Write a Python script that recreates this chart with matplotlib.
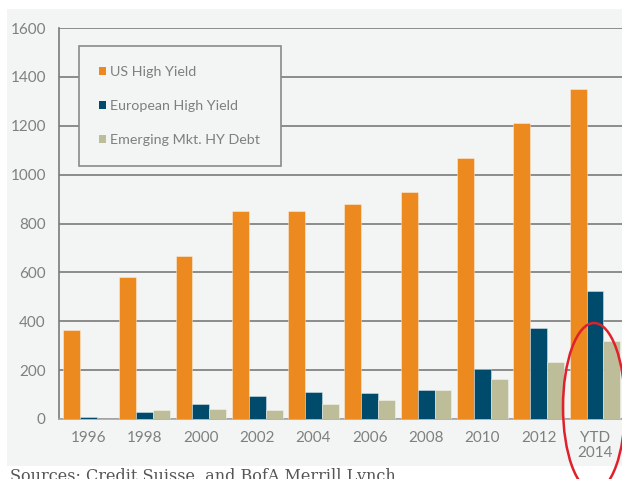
import matplotlib
matplotlib.use("Agg")
import matplotlib.pyplot as plt
from matplotlib.patches import Rectangle, Ellipse, Patch
import numpy as np

# issuance volumes (US$ bn)
years = ["1996", "1998", "2000", "2002", "2004", "2006", "2008", "2010", "2012", "YTD\n2014"]
us_hy = [365, 580, 665, 850, 850, 880, 930, 1070, 1210, 1350]
euro_hy = [7, 30, 60, 94, 112, 105, 117, 203, 371, 525]
em_hy = [1, 37, 41, 37, 61, 78, 119, 164, 233, 319]

series = ["US High Yield", "European High Yield", "Emerging Mkt. HY Debt"]
colors = ["#ec891f", "#004a6b", "#bdbd99"]

plt.rcParams['font.family'] = ['Lato', 'DejaVu Sans']
grey_txt = "#7f7f7f"
panel = "#f3f5f5"

W, H = 622, 479
fig = plt.figure(figsize=(W / 100, H / 100), dpi=100)
fig.patch.set_facecolor("white")

# light panel behind the chart
fig.add_artist(Rectangle((7 / W, 1 - 466 / H), 1 - 7 / W, (466 - 9) / H,
                         transform=fig.transFigure, facecolor=panel,
                         edgecolor="none", zorder=0))

ax = fig.add_axes([59 / W, 1 - 419 / H, 1 - 59 / W, (419 - 28) / H])
ax.set_facecolor(panel)

x = np.arange(len(years))
w = 0.3
for k, (vals, c) in enumerate(zip([us_hy, euro_hy, em_hy], colors)):
    ax.bar(x + (k - 1) * w, vals, width=w, color=c, edgecolor=(1, 1, 1, 0.45),
           linewidth=0.6, zorder=3)

ax.set_ylim(0, 1600)
ax.set_xlim(-0.52, 9.48)
ax.set_yticks(range(0, 1601, 200))
ax.set_xticks(x)
ax.set_xticklabels(years)
ax.yaxis.grid(True, color="#7a7a7a", linewidth=1.2, zorder=1)
ax.set_axisbelow(True)
ax.tick_params(length=0, labelsize=11, colors=grey_txt)
ax.tick_params(axis="y", pad=9.5)
ax.tick_params(axis="x", pad=9)
for t in ax.get_xticklabels() + ax.get_yticklabels():
    t.set_linespacing(1.05)

for s in ["top", "right"]:
    ax.spines[s].set_visible(False)
ax.spines["left"].set_color("#7a7a7a")
ax.spines["left"].set_linewidth(1.2)
ax.spines["bottom"].set_color("#a8a8a8")
ax.spines["bottom"].set_linewidth(1.2)

handles = [Patch(facecolor=c, edgecolor="none") for c in colors]
leg = ax.legend(handles, series, loc="upper left",
                bbox_to_anchor=(79 / W, 1 - 46 / H), bbox_transform=fig.transFigure,
                borderaxespad=0, fontsize=10.3, labelcolor=grey_txt,
                handlelength=0.5, handleheight=0.5, handletextpad=0.3,
                labelspacing=1.55, borderpad=1.4, fancybox=False, framealpha=1)
leg.get_frame().set_facecolor(panel)
leg.get_frame().set_edgecolor("#8a8a8a")
leg.get_frame().set_linewidth(1.2)
leg.set_zorder(5)

# red highlight around the latest year
fig.add_artist(Ellipse((594 / W, 1 - 407 / H), 62 / W, 168 / H,
                       transform=fig.transFigure, facecolor="none",
                       edgecolor="#e0202a", linewidth=1.8, zorder=10))

fig.text(10 / W, 1 - 468 / H, "Sources: Credit Suisse, and BofA Merrill Lynch",
         family="DejaVu Serif", fontsize=11.5, color="#555555", va="top")

fig.savefig("out.png", dpi=100, facecolor=fig.get_facecolor())
